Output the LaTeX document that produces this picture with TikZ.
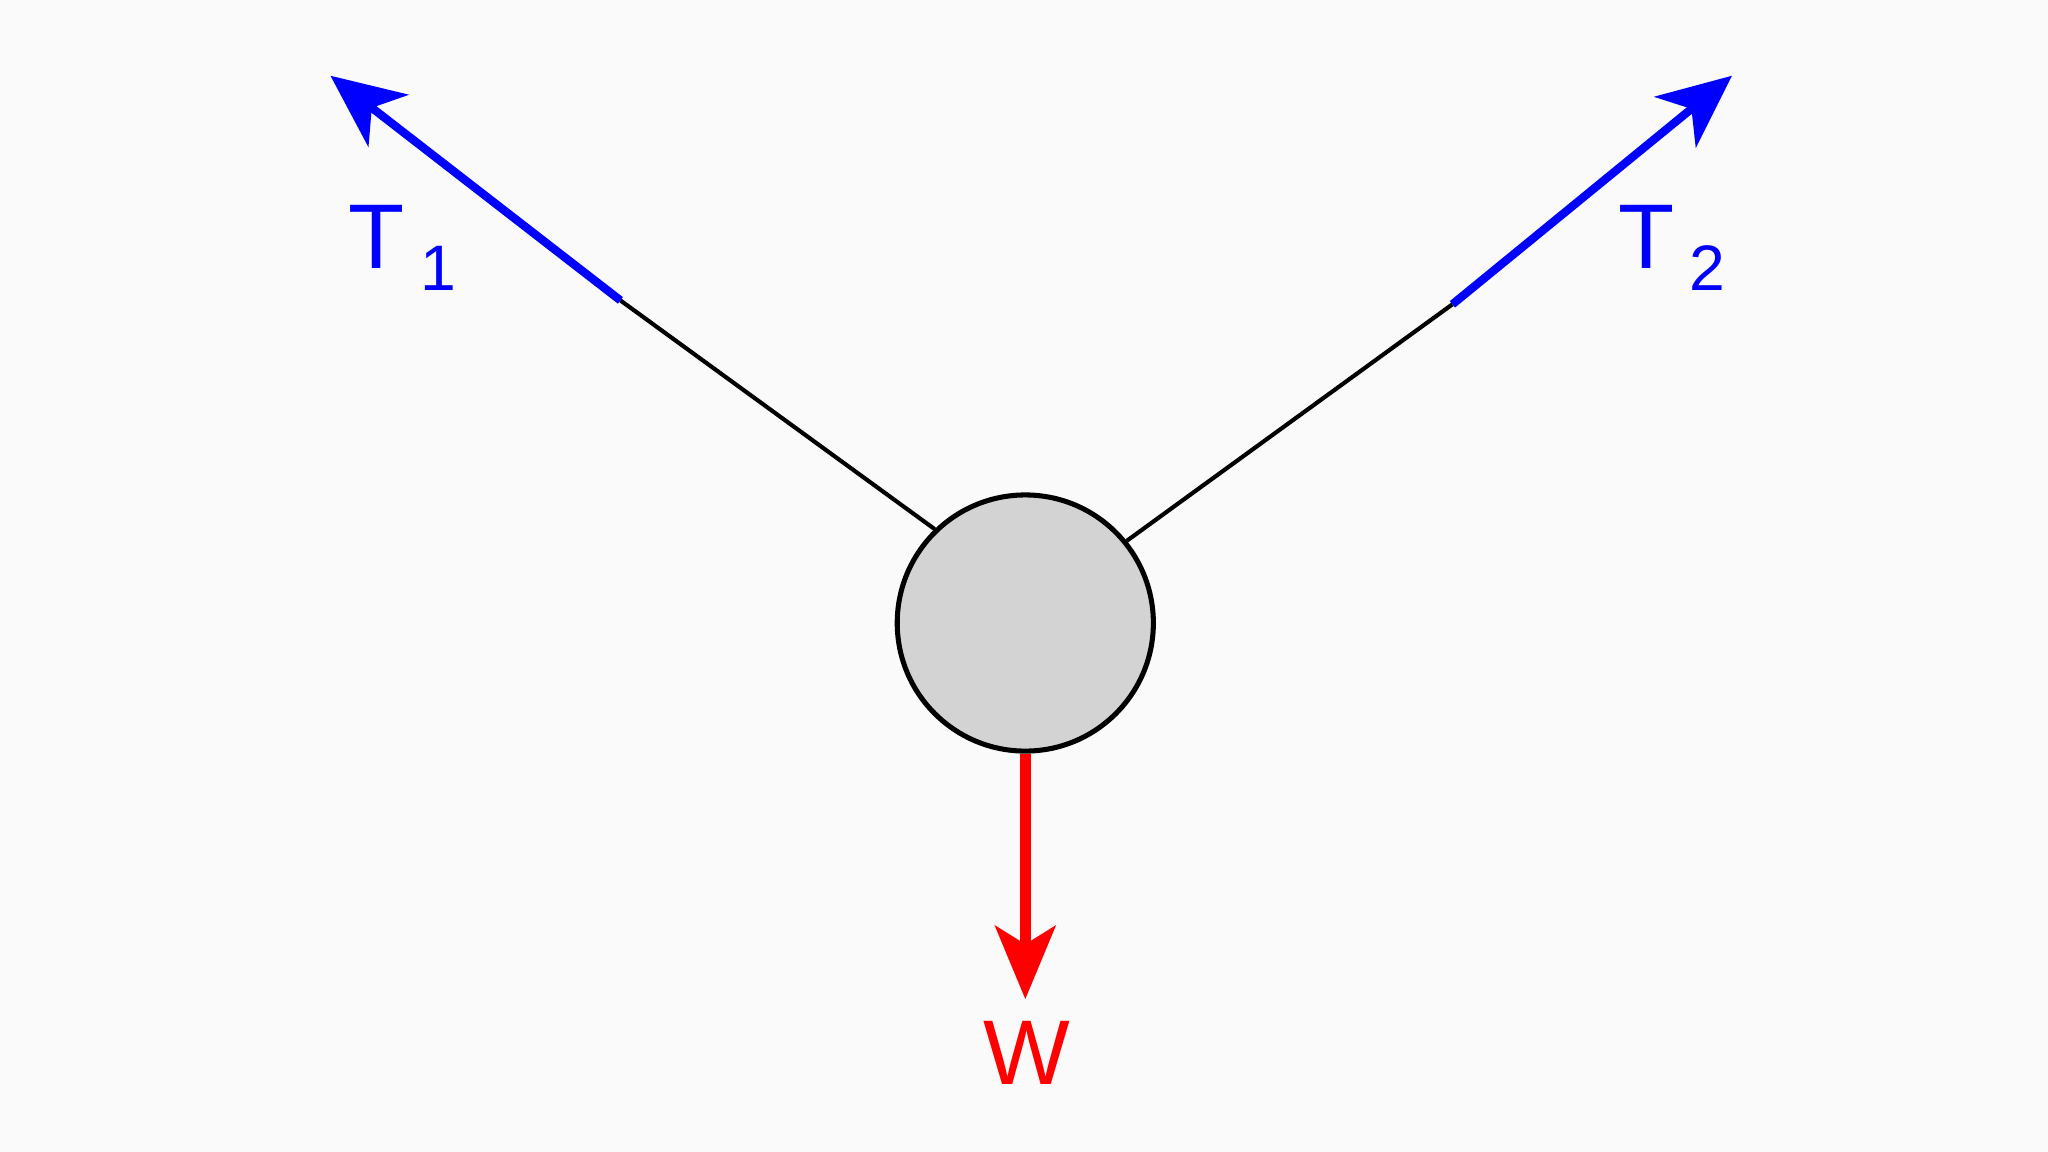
\documentclass[tikz,border=0pt]{standalone}
\usepackage{fontspec}
\setmainfont{Liberation Sans}
\usetikzlibrary{arrows.meta}
\definecolor{bgc}{RGB}{250,250,250}
\definecolor{ballc}{RGB}{211,211,211}
\begin{document}
\begin{tikzpicture}[x=0.01cm,y=-0.01cm,
  rope/.style={line width=0.9pt,black},
  tforce/.style={line width=1.8pt,blue,-{Stealth[length=5.6mm,width=5mm,inset=1.6mm]}},
  wforce/.style={line width=2.3pt,red,-{Stealth[length=5.6mm,width=4.6mm,inset=1.4mm]}},
  lbl/.style={font=\fontsize{20}{24}\selectfont}]
\fill[bgc] (0,0) rectangle (1568,882);
\useasboundingbox (0,0) rectangle (1568,882);
\node[circle,draw=black,line width=1.1pt,fill=ballc,minimum size=1.96cm,inner sep=0] (ball) at (785,477) {};
\coordinate (a1) at (475,230);
\coordinate (a2) at (1112,233);
\coordinate (t1) at (253,58);
\coordinate (t2) at (1326,58);
\coordinate (wt) at (785,765);
\draw[rope] (ball.134) -- (a1);
\draw[rope] (ball.39) -- (a2);
\draw[tforce] (a1) -- (t1);
\draw[tforce] (a2) -- (t2);
\draw[wforce] (ball.south) -- (wt);
\node[lbl,blue] (T1) at (308,190) {T\,\raisebox{-0.45ex}{\fontsize{14}{16}\selectfont 1}};
\node[lbl,blue] (T2) at (1280,190) {T\,\raisebox{-0.45ex}{\fontsize{14}{16}\selectfont 2}};
\node[lbl,red] (W) at (786,806) {W};
\end{tikzpicture}
\end{document}
